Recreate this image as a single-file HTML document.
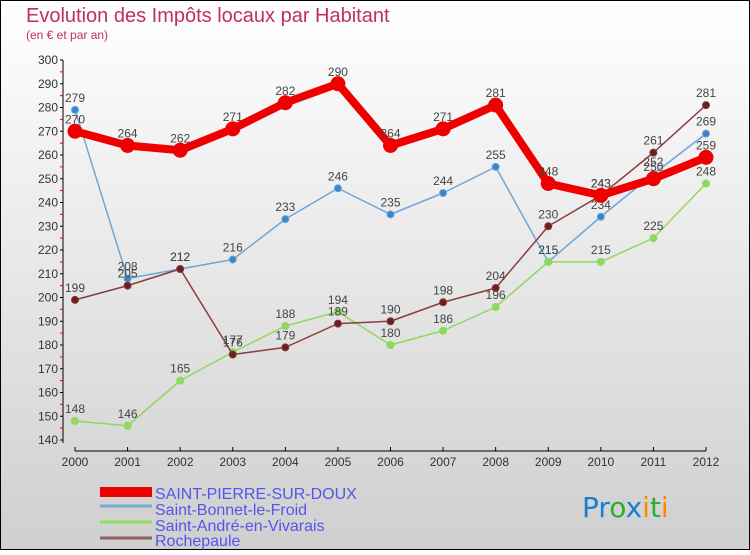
<!DOCTYPE html>
<html><head><meta charset="utf-8"><style>
body{margin:0;width:750px;height:550px;overflow:hidden;font-family:"Liberation Sans",sans-serif}
</style></head><body>
<svg width="750" height="550" xmlns="http://www.w3.org/2000/svg" id="svg">
<defs><linearGradient id="bg" x1="0" y1="0" x2="0" y2="1"><stop offset="0" stop-color="#ffffff"/><stop offset="1" stop-color="#cfcfcf"/></linearGradient></defs>
<rect x="0.5" y="0.5" width="749" height="549" fill="url(#bg)" stroke="#000"/>
<text x="26" y="22" font-size="20" fill="#c0305a">Evolution des Impôts locaux par Habitant</text>
<text x="26" y="39" font-size="12" fill="#c0305a">(en € et par an)</text>
<g id="axes"></g><g id="series"></g>
<g font-size="16" fill="#5555ee">
<rect x="100" y="487" width="52" height="10" fill="#e00"/>
<text x="155" y="499">SAINT-PIERRE-SUR-DOUX</text>
<line x1="100" y1="506" x2="152" y2="506" stroke="#7aaad0" stroke-width="3"/>
<text x="155" y="515">Saint-Bonnet-le-Froid</text>
<line x1="100" y1="522" x2="152" y2="522" stroke="#90dd60" stroke-width="3"/>
<text x="155" y="531">Saint-André-en-Vivarais</text>
<line x1="100" y1="538" x2="152" y2="538" stroke="#906060" stroke-width="3"/>
<text x="155" y="546">Rochepaule</text>
</g>
<text x="582" y="517" font-size="28" font-family="'DejaVu Sans',sans-serif"><tspan fill="#1a7fd0">Pr</tspan><tspan fill="#3a3">o</tspan><tspan fill="#1a7fd0">x</tspan><tspan fill="#f80">i</tspan><tspan fill="#3a3">t</tspan><tspan fill="#f80">i</tspan></text>
</svg>
<script>
const years=[2000,2001,2002,2003,2004,2005,2006,2007,2008,2009,2010,2011,2012];
const yTicks=[140,150,160,170,180,190,200,210,220,230,240,250,260,270,280,290,300];
const stPierre=[270,264,262,271,282,290,264,271,281,248,243,250,259];
const stBonnet=[279,208,212,216,233,246,235,244,255,215,234,252,269];
const stAndre=[148,146,165,177,188,194,180,186,196,215,215,225,248];
const rochepaule=[199,205,212,176,179,189,190,198,204,230,243,261,281];
const NS="http://www.w3.org/2000/svg";
const X=i=>75+i*(631/12);
const Y=v=>440-(v-140)*2.375;
function mk(t,a,p){const e=document.createElementNS(NS,t);for(const k in a)e.setAttribute(k,a[k]);p.appendChild(e);return e;}
const ax=document.getElementById('axes');
let yl=mk('line',{x1:63,y1:60,x2:63,y2:443,stroke:'#000'},ax);


yTicks.forEach(v=>{
 mk('line',{x1:60,y1:Y(v),x2:63,y2:Y(v),stroke:'#000'},ax);
 if(v<300)mk('line',{x1:60,y1:Y(v+5),x2:63,y2:Y(v+5),stroke:'#e00'},ax);
 const t=mk('text',{x:58,y:Y(v)+4,'font-size':12,'text-anchor':'end',fill:'#333'},ax);t.textContent=v;
 
 
});
let xl=mk('line',{x1:75,y1:451,x2:706,y2:451,stroke:'#000'},ax);


years.forEach((y,i)=>{
 mk('line',{x1:X(i),y1:447,x2:X(i),y2:451,stroke:'#000'},ax);
 const t=mk('text',{x:X(i),y:466,'font-size':12,'text-anchor':'middle',fill:'#333'},ax);t.textContent=y;
 
 
});
const sg=document.getElementById('series');
function series(name,data,color,w,r,dot){
 const g=mk('g',{},sg);
 
 
 const p=mk('polyline',{points:data.map((v,i)=>X(i)+','+Y(v)).join(' '),fill:'none',stroke:color,'stroke-width':w,'stroke-linejoin':'round'},g);
 
 
 data.forEach((v,i)=>{
  const c=mk('circle',{cx:X(i),cy:Y(v),r:r,fill:dot,stroke:color,'stroke-width':1},g);
  
  
  const t=mk('text',{x:X(i),y:Y(v)-8,'font-size':12,'text-anchor':'middle',fill:'#444'},g);t.textContent=v;
  
  
 });
}
series('saint-bonnet',stBonnet,'#6fa6d6',1.5,3.5,'#3a85c8');
series('saint-andre',stAndre,'#8fd860',1.5,3.5,'#8fd860');
series('rochepaule',rochepaule,'#8a3c3c',1.5,3.5,'#6a2020');
series('saint-pierre',stPierre,'#ee0000',8,7,'#ee0000');
</script>
</body></html>
